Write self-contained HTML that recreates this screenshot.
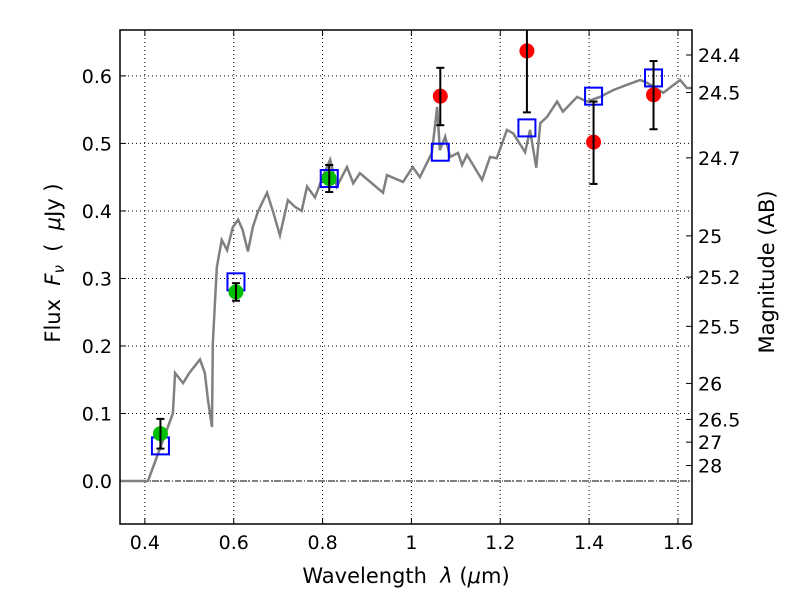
<!DOCTYPE html>
<html><head><meta charset="utf-8"><style>
body{margin:0;background:#fff;font-family:"DejaVu Sans",sans-serif}
text{font-family:"DejaVu Sans","Liberation Sans",sans-serif}
</style></head><body>
<svg id="c" width="800" height="600"></svg>
<script>
const specX=[0.344,0.407,0.463,0.468,0.486,0.50,0.524,0.535,0.542,0.551,0.553,0.562,0.573,0.585,0.598,0.61,0.62,0.632,0.643,0.655,0.675,0.688,0.704,0.722,0.738,0.753,0.765,0.783,0.80,0.817,0.832,0.855,0.869,0.884,0.936,0.945,0.981,1.003,1.019,1.046,1.058,1.064,1.076,1.087,1.105,1.114,1.125,1.159,1.177,1.192,1.215,1.229,1.256,1.267,1.281,1.29,1.305,1.328,1.341,1.373,1.395,1.425,1.454,1.486,1.515,1.53,1.567,1.605,1.62,1.632];
const specY=[0,0,0.10,0.16,0.145,0.16,0.18,0.16,0.12,0.08,0.205,0.317,0.357,0.342,0.376,0.387,0.372,0.34,0.376,0.40,0.427,0.40,0.364,0.416,0.406,0.40,0.436,0.42,0.45,0.476,0.436,0.465,0.441,0.456,0.427,0.453,0.443,0.465,0.45,0.486,0.554,0.49,0.51,0.48,0.486,0.468,0.483,0.446,0.48,0.478,0.52,0.515,0.487,0.52,0.464,0.53,0.539,0.562,0.547,0.569,0.562,0.569,0.579,0.587,0.594,0.59,0.575,0.594,0.582,0.582];
const greenX=[0.435,0.605,0.815];
const greenY=[0.07,0.28,0.448];
const greenErr=[0.022,0.013,0.02];
const modelX=[0.435,0.605,0.815,1.065,1.26,1.41,1.545];
const modelY=[0.052,0.295,0.448,0.487,0.523,0.57,0.597];
const redX=[1.065,1.26,1.41,1.545];
const redY=[0.57,0.637,0.502,0.572];
const redLo=[0.527,0.546,0.44,0.521];
const redHi=[0.612,0.75,0.562,0.622];
const xTicks=[0.4,0.6,0.8,1.0,1.2,1.4,1.6];
const xTickLabels=["0.4","0.6","0.8","1","1.2","1.4","1.6"];
const yTicks=[0,0.1,0.2,0.3,0.4,0.5,0.6];
const magTicks=[24.4,24.5,24.7,25,25.2,25.5,26,26.5,27,28];

const L=120,R=692,T=30,B=524,x0=0.344,x1=1.6316,y0=-0.0637,y1=0.668;
const X=v=>L+(v-x0)/(x1-x0)*(R-L);
const Y=v=>B-(v-y0)/(y1-y0)*(B-T);
const svg=document.getElementById('c');const NS='http://www.w3.org/2000/svg';
function mk(t,a,p){const e=document.createElementNS(NS,t);for(const k in a)e.setAttribute(k,a[k]);(p||svg).appendChild(e);return e;}
const clip=mk('clipPath',{id:'cl'});mk('rect',{x:L,y:T,width:R-L,height:B-T},clip);
xTicks.forEach((v,i)=>{
 const g=mk('line',{x1:X(v),x2:X(v),y1:T,y2:B,stroke:'#000','stroke-dasharray':'1,3','stroke-width':1});
 
 mk('line',{x1:X(v),x2:X(v),y1:B,y2:B-6,stroke:'#000'});mk('line',{x1:X(v),x2:X(v),y1:T,y2:T+6,stroke:'#000'});
 const t=mk('text',{x:X(v),y:B+25,'font-size':19,'text-anchor':'middle'});t.textContent=xTickLabels[i];
 
});
yTicks.forEach(v=>{
 const g=mk('line',{x1:L,x2:R,y1:Y(v),y2:Y(v),stroke:'#000','stroke-dasharray':'1,3','stroke-width':1});
 
 mk('line',{x1:L,x2:L+6,y1:Y(v),y2:Y(v),stroke:'#000'});
 const t=mk('text',{x:L-8,y:Y(v)+7,'font-size':19,'text-anchor':'end'});t.textContent=v.toFixed(1);
 
});
magTicks.forEach(m=>{
 const f=Math.pow(10,(23.9-m)/2.5);
 mk('line',{x1:R,x2:R-6,y1:Y(f),y2:Y(f),stroke:'#000'});
 const t=mk('text',{x:R+6,y:Y(f)+7,'font-size':19});t.textContent=String(m);
 
});
const z=mk('line',{x1:L,x2:R,y1:Y(0),y2:Y(0),stroke:'#000','stroke-dasharray':'6,2,1,2','stroke-width':1});

const sp=mk('polyline',{points:specX.map((v,i)=>X(v)+','+Y(specY[i])).join(' '),fill:'none',stroke:'#808080','stroke-width':2.5,'clip-path':'url(#cl)'});

modelX.forEach((v,i)=>{
 const r=mk('rect',{x:X(v)-8.5,y:Y(modelY[i])-8.5,width:17,height:17,fill:'none',stroke:'#0000ff','stroke-width':2});
 
});
function eb(x,lo,hi){
 mk('line',{x1:X(x),x2:X(x),y1:Y(lo),y2:Y(hi),stroke:'#000','stroke-width':2,'clip-path':'url(#cl)'});
 [lo,hi].forEach(v=>{if(v<y1)mk('line',{x1:X(x)-4,x2:X(x)+4,y1:Y(v),y2:Y(v),stroke:'#000','stroke-width':2});});
}
greenX.forEach((v,i)=>{
 const c=mk('circle',{cx:X(v),cy:Y(greenY[i]),r:7.5,fill:'#00bf00'});
 
 eb(v,greenY[i]-greenErr[i],greenY[i]+greenErr[i]);
});
redX.forEach((v,i)=>{
 const c=mk('circle',{cx:X(v),cy:Y(redY[i]),r:7.5,fill:'#ff0000'});
 
 eb(v,redLo[i],redHi[i]);
});
const fr=mk('rect',{x:L,y:T,width:R-L,height:B-T,fill:'none',stroke:'#000','stroke-width':1.5});

</script>
<svg width="800" height="600" style="position:absolute;left:0;top:0" xml:space="preserve">
<text x="406" y="583" font-size="21" text-anchor="middle" xml:space="preserve">Wavelength  <tspan font-style="italic">λ</tspan> (<tspan font-style="italic">μ</tspan>m)</text>
<text transform="translate(60,263) rotate(-90)" font-size="21" text-anchor="middle" xml:space="preserve">Flux  <tspan font-style="italic">F</tspan><tspan font-style="italic" font-size="15" dy="4">ν</tspan><tspan dy="-4">  (  </tspan><tspan font-style="italic">μ</tspan>Jy )</text>
<text transform="translate(774,272) rotate(-90)" font-size="21" text-anchor="middle">Magnitude (AB)</text>
</svg>
</body></html>
